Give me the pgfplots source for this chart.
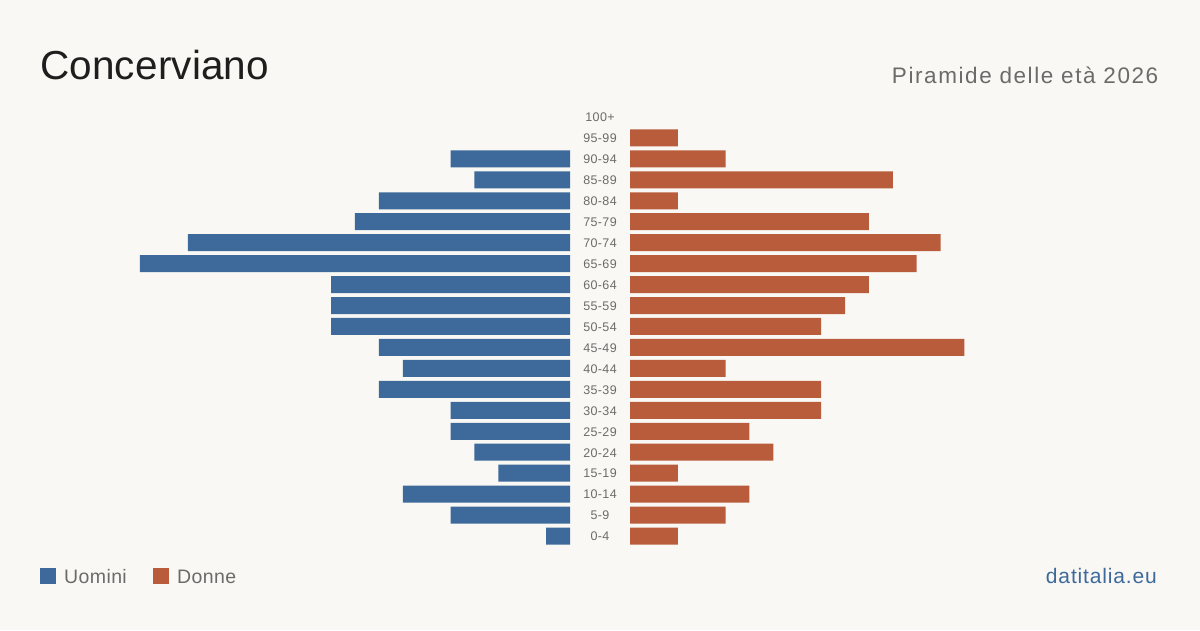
\documentclass[border=0pt]{standalone}
\usepackage{pgfplots}
\pgfplotsset{compat=1.18}
\usepackage{fontspec}
\setmainfont{Liberation Sans}

\definecolor{bg}{HTML}{F9F8F4}
\definecolor{men}{HTML}{3D6A9B}
\definecolor{women}{HTML}{B95C3B}
\definecolor{ink}{HTML}{1E1E1E}
\definecolor{muted}{HTML}{6B6B6B}

\pgfplotsset{
  pyramid/.style={
    scale only axis,
    width=430pt, height=440pt,
    anchor=south west,
    xbar, bar width=17pt,
    xmin=0, xmax=18,
    ymin=-0.5, ymax=20.5,
    hide x axis,
    /pgf/number format/assume math mode=true,
  }
}

\begin{document}
\begin{tikzpicture}
\fill[bg] (0pt,0pt) rectangle (1200pt,630pt);

% men, growing to the left (age classes 0 = 0-4 ... 20 = 100+)
\begin{axis}[pyramid, at={(140pt,83.5pt)}, x dir=reverse, hide y axis]
\addplot[fill=men, draw=none] coordinates {
  (1,0) (5,1) (7,2) (3,3) (4,4) (5,5) (5,6) (8,7) (7,8) (8,9)
  (10,10) (10,11) (10,12) (18,13) (16,14) (9,15) (8,16) (4,17) (5,18)};
\end{axis}

% women, growing to the right; age labels sit in the central gap
\begin{axis}[pyramid, at={(630pt,83.5pt)},
  axis y line=left, y axis line style={draw=none},
  ytick={0,...,20},
  yticklabels={0-4,5-9,10-14,15-19,20-24,25-29,30-34,35-39,40-44,45-49,50-54,
    55-59,60-64,65-69,70-74,75-79,80-84,85-89,90-94,95-99,100+},
  major tick length=0pt, ytick style={draw=none},
  yticklabel style={anchor=center, xshift=-30pt, yshift=-0.5pt, text=muted,
    font=\fontsize{12.5}{14}\selectfont\addfontfeatures{LetterSpace=3}}]
\addplot[fill=women, draw=none] coordinates {
  (2,0) (4,1) (5,2) (2,3) (6,4) (5,5) (8,6) (8,7) (4,8) (14,9)
  (8,10) (9,11) (10,12) (12,13) (13,14) (10,15) (2,16) (11,17) (4,18)
  (2,19)};
\end{axis}

\begin{scope}[x=1pt, y=1pt]
% titles
\node[anchor=base west, inner sep=0, text=ink, font=\fontsize{40.5}{48}\selectfont\addfontfeatures{LetterSpace=0.4}]
  at (40,550) {Concerviano};
\node[anchor=base east, inner sep=0, text=muted,
  font=\fontsize{22.5}{28}\selectfont\addfontfeatures{LetterSpace=7}]
  at (1158.5,546) {Piramide delle età 2026};

% legend
\fill[men] (40,46) rectangle (56,62);
\node[anchor=base west, inner sep=0, text=muted,
  font=\fontsize{19.5}{24}\selectfont\addfontfeatures{LetterSpace=2}]
  at (64,47) {Uomini};
\fill[women] (153,46) rectangle (169,62);
\node[anchor=base west, inner sep=0, text=muted,
  font=\fontsize{19.5}{24}\selectfont\addfontfeatures{LetterSpace=2}]
  at (177,47) {Donne};

% source
\node[anchor=base east, inner sep=0, text=men,
  font=\fontsize{21}{24}\selectfont\addfontfeatures{LetterSpace=4}]
  at (1157,47) {datitalia.eu};
\end{scope}

\pgfresetboundingbox
\path (0pt,0pt) rectangle (1200pt,630pt);
\end{tikzpicture}
\end{document}
